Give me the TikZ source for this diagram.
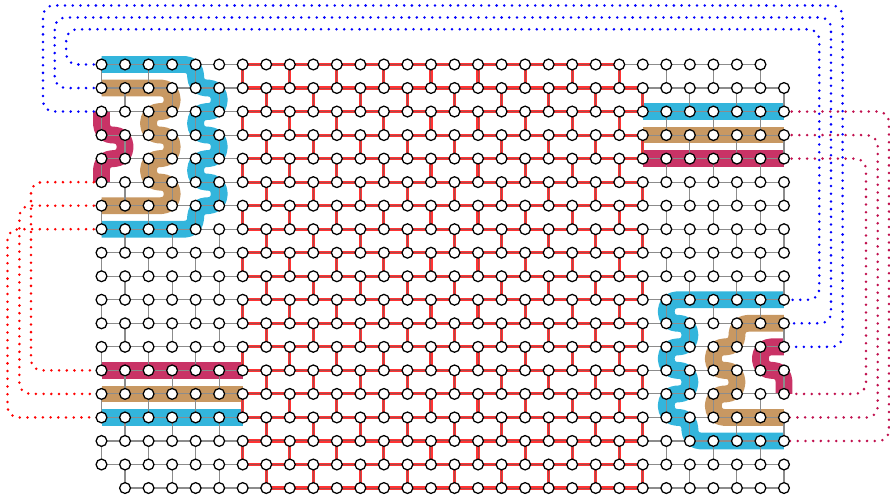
\documentclass[tikz,border=0pt]{standalone}
\pgfdeclarelayer{ribbon}
\pgfdeclarelayer{edge}
\pgfsetlayers{ribbon,edge,main}
\definecolor{ribblue}{HTML}{33B5DC}
\definecolor{ribtan}{HTML}{C89862}
\definecolor{ribred}{HTML}{C93366}
\definecolor{dotcrim}{HTML}{C0104E}
\definecolor{edgered}{HTML}{FF3434}
\definecolor{edgecore}{HTML}{A84A4A}
\tikzset{
  px/.style={line width=#1*0.75pt},
  qubit/.style={circle,draw=black,fill=white,inner sep=0pt,minimum size=8.1pt,line width=0.95pt},
  gridedge/.style={draw=black!45,px=1.1},
  rededge/.style={draw=edgered,px=3.1},
  coreedge/.style={draw=edgecore,px=1.0},
  ribbon/.style={px=16.8,rounded corners=8pt,line cap=butt,line join=round},
  link/.style={px=2.8,line cap=round,dash pattern=on 0pt off 5.78pt,rounded corners=8pt}
}
\begin{document}
\begin{tikzpicture}[x=0.75pt,y=-0.75pt]
\useasboundingbox (0,0) rectangle (890,498);
% qubits
\foreach \i in {0,...,29}{
  \foreach \j in {0,...,18}{
    \pgfmathsetmacro\xx{101.5+23.534*\i}
    \pgfmathsetmacro\yy{64.5+23.53*\j}
    \ifnum\numexpr\i*100+\j\relax=2900 \else
    \ifnum\numexpr\i*100+\j\relax=18 \else
      \node[qubit] (n-\i-\j) at (\xx,\yy) {};
    \fi\fi
  }
}
\begin{pgfonlayer}{edge}
% horizontal couplers
\foreach \j in {0,...,18}{
  \pgfmathtruncatemacro\hlo{\j==18 ? 7 : 6}
  \pgfmathtruncatemacro\hhi{\j==0 ? 21 : 22}
  \foreach \i in {0,...,28}{
    \pgfmathtruncatemacro\k{\i+1}
    \pgfmathtruncatemacro\skipit{(\j==0 && \i==28) || (\j==18 && \i==0) ? 1 : 0}
    \pgfmathtruncatemacro\isred{(\i>=\hlo && \i<=\hhi) ? 1 : 0}
    \ifnum\skipit=0
      \ifnum\isred=1
        \draw[rededge] (n-\i-\j.center) -- (n-\k-\j.center);
        \draw[coreedge] (n-\i-\j.center) -- (n-\k-\j.center);
      \else
        \draw[gridedge] (n-\i-\j.center) -- (n-\k-\j.center);
      \fi
    \fi
  }
}
% vertical couplers
\foreach \j in {0,...,17}{
  \foreach \i in {0,...,29}{
    \pgfmathtruncatemacro\k{\j+1}
    \pgfmathtruncatemacro\isred{(\i>=6 && \i<=23) ? 1 : 0}
    \ifodd\numexpr\i+\j\relax\else
      \ifnum\isred=1
        \draw[rededge] (n-\i-\j.center) -- (n-\i-\k.center);
        \draw[coreedge] (n-\i-\j.center) -- (n-\i-\k.center);
      \else
        \draw[gridedge] (n-\i-\j.center) -- (n-\i-\k.center);
      \fi
    \fi
  }
}
% long-range links
\coordinate (ba) at (43,5.5);
\coordinate (bb) at (842.6,5.5);
\coordinate (bc) at (54.7,17.5);
\coordinate (bd) at (831,17.5);
\coordinate (be) at (66.2,29.3);
\coordinate (bf) at (819.3,29.3);
\coordinate (ra) at (31,300);
\coordinate (rb) at (19.4,300);
\coordinate (rc) at (7.5,300);
\draw[link,red] (n-0-5.center) -| (ra) |- (n-0-13.center);
\draw[link,red] (n-0-6.center) -| (rb) |- (n-0-14.center);
\draw[link,red] (n-0-7.center) -| (rc) |- (n-0-15.center);
\coordinate (ca) at (889,300);
\coordinate (cb) at (877.7,300);
\coordinate (cc) at (866,300);
\draw[link,dotcrim] (n-29-2.center) -| (ca) |- (n-29-16.center);
\draw[link,dotcrim] (n-29-3.center) -| (cb) |- (n-29-15.center);
\draw[link,dotcrim] (n-29-4.center) -| (cc) |- (n-29-14.center);
\draw[link,blue] (n-0-2.center) -| (ba) -- (bb) |- (n-29-12.center);
\draw[link,blue] (n-0-1.center) -| (bc) -- (bd) |- (n-29-11.center);
\draw[link,blue] (n-0-0.center) -| (be) -- (bf) |- (n-29-10.center);
\end{pgfonlayer}
\begin{pgfonlayer}{ribbon}
% top-left group
\draw[ribbon,ribblue] (n-0-0.center) -- (n-4-0.center) -- (n-4-1.center) -- (n-5-1.center) -- (n-5-2.center) -- (n-4-2.center) -- (n-4-3.center) -- (n-5-3.center) -- (n-5-4.center) -- (n-4-4.center) -- (n-4-5.center) -- (n-5-5.center) -- (n-5-6.center) -- (n-4-6.center) -- (n-4-7.center) -- (n-0-7.center);
\draw[ribbon,ribtan] (n-0-1.center) -- (n-3-1.center) -- (n-3-2.center) -- (n-2-2.center) -- (n-2-3.center) -- (n-3-3.center) -- (n-3-4.center) -- (n-2-4.center) -- (n-2-5.center) -- (n-3-5.center) -- (n-3-6.center) -- (n-0-6.center);
\draw[ribbon,ribred] (n-0-2.center) -- (n-0-3.center) -- (n-1-3.center) -- (n-1-4.center) -- (n-0-4.center) -- (n-0-5.center);
% top-right bars
\draw[ribbon,ribblue] (n-23-2.center) -- (n-29-2.center);
\draw[ribbon,ribtan] (n-23-3.center) -- (n-29-3.center);
\draw[ribbon,ribred] (n-23-4.center) -- (n-29-4.center);
% bottom-left bars
\draw[ribbon,ribred] (n-0-13.center) -- (n-6-13.center);
\draw[ribbon,ribtan] (n-0-14.center) -- (n-6-14.center);
\draw[ribbon,ribblue] (n-0-15.center) -- (n-6-15.center);
% bottom-right group
\draw[ribbon,ribblue] (n-29-10.center) -- (n-24-10.center) -- (n-24-11.center) -- (n-25-11.center) -- (n-25-12.center) -- (n-24-12.center) -- (n-24-13.center) -- (n-25-13.center) -- (n-25-14.center) -- (n-24-14.center) -- (n-24-15.center) -- (n-25-15.center) -- (n-25-16.center) -- (n-29-16.center);
\draw[ribbon,ribtan] (n-29-11.center) -- (n-27-11.center) -- (n-27-12.center) -- (n-26-12.center) -- (n-26-13.center) -- (n-27-13.center) -- (n-27-14.center) -- (n-26-14.center) -- (n-26-15.center) -- (n-29-15.center);
\draw[ribbon,ribred] (n-29-12.center) -- (n-28-12.center) -- (n-28-13.center) -- (n-29-13.center) -- (n-29-14.center);
\end{pgfonlayer}
\end{tikzpicture}
\end{document}
